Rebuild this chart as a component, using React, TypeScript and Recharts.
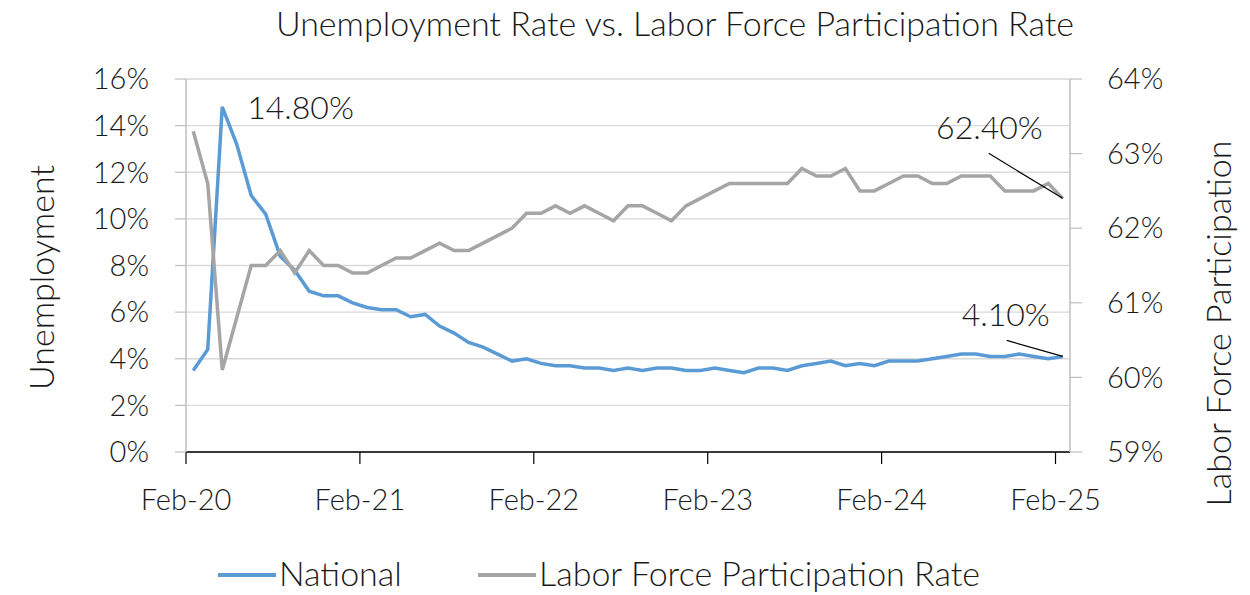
import React from "react";
import {
  LineChart,
  Line,
  XAxis,
  YAxis,
  CartesianGrid,
  Legend,
} from "recharts";

// monthly observations, Feb-20 .. Feb-25
const startYear = 2020;
const monthNames = ["Jan", "Feb", "Mar", "Apr", "May", "Jun", "Jul", "Aug", "Sep", "Oct", "Nov", "Dec"];
const months: string[] = [];
for (let i = 0; i < 61; i++) {
  const m = (1 + i) % 12;
  const y = startYear + Math.floor((1 + i) / 12);
  months.push(`${monthNames[m]}-${String(y).slice(2)}`);
}

const national = [
  3.5, 4.4, 14.8, 13.2, 11.0, 10.2, 8.4, 7.8, 6.9, 6.7, 6.7,
  6.4, 6.2, 6.1, 6.1, 5.8, 5.9, 5.4, 5.1, 4.7, 4.5, 4.2, 3.9,
  4.0, 3.8, 3.7, 3.7, 3.6, 3.6, 3.5, 3.6, 3.5, 3.6, 3.6, 3.5,
  3.5, 3.6, 3.5, 3.4, 3.6, 3.6, 3.5, 3.7, 3.8, 3.9, 3.7, 3.8,
  3.7, 3.9, 3.9, 3.9, 4.0, 4.1, 4.2, 4.2, 4.1, 4.1, 4.2, 4.1,
  4.0, 4.1,
];

const participation = [
  63.3, 62.6, 60.1, 60.8, 61.5, 61.5, 61.7, 61.4, 61.7, 61.5, 61.5,
  61.4, 61.4, 61.5, 61.6, 61.6, 61.7, 61.8, 61.7, 61.7, 61.8, 61.9, 62.0,
  62.2, 62.2, 62.3, 62.2, 62.3, 62.2, 62.1, 62.3, 62.3, 62.2, 62.1, 62.3,
  62.4, 62.5, 62.6, 62.6, 62.6, 62.6, 62.6, 62.8, 62.7, 62.7, 62.8, 62.5,
  62.5, 62.6, 62.7, 62.7, 62.6, 62.6, 62.7, 62.7, 62.7, 62.5, 62.5, 62.5,
  62.6, 62.4,
];

const tickLabels = ["Feb-20", "Feb-21", "Feb-22", "Feb-23", "Feb-24", "Feb-25"];
const leftTicks = [0, 2, 4, 6, 8, 10, 12, 14, 16];
const rightTicks = [59, 60, 61, 62, 63, 64];
const seriesNames = ["National", "Labor Force Participation Rate"];
const colors = ["#5b9bd5", "#a5a5a5"];

const data = months.map((m, i) => ({
  idx: i,
  month: m,
  national: national[i],
  participation: participation[i],
}));

// ticks sit on the boundary before each labelled month
const xTicks = tickLabels.map((l) => months.indexOf(l) - 0.5);

const FONT = "Lato, 'Open Sans', sans-serif";
const TEXT = "#1a1a1a";

const peakIndex = national.indexOf(Math.max(...national));
const lastIndex = national.length - 1;

const NationalLabel = (props: any) => {
  const { x, y, index, value } = props;
  if (index === peakIndex) {
    return (
      <text x={x + 25} y={y + 12} fontSize={32} fontWeight={300} fill={TEXT} fontFamily={FONT}>
        {value.toFixed(2)}%
      </text>
    );
  }
  if (index === lastIndex) {
    return (
      <g>
        <line x1={x - 56} y1={y - 16} x2={x} y2={y} stroke="#000" strokeWidth={1.2} />
        <text x={x - 13} y={y - 30} fontSize={32} fontWeight={300} fill={TEXT} fontFamily={FONT} textAnchor="end">
          {value.toFixed(2)}%
        </text>
      </g>
    );
  }
  return null;
};

const ParticipationLabel = (props: any) => {
  const { x, y, index, value } = props;
  if (index === lastIndex) {
    return (
      <g>
        <line x1={x - 74} y1={y - 45} x2={x} y2={y} stroke="#000" strokeWidth={1.2} />
        <text x={x - 20} y={y - 59} fontSize={32} fontWeight={300} fill={TEXT} fontFamily={FONT} textAnchor="end">
          {value.toFixed(2)}%
        </text>
      </g>
    );
  }
  return null;
};

const LegendContent = () => (
  <svg width={1250} height={48} style={{ display: "block" }}>
    <line x1={218} y1={28} x2={276} y2={28} stroke={colors[0]} strokeWidth={4} />
    <text x={279} y={39} fontSize={34} fontWeight={300} fill={TEXT} fontFamily={FONT}>
      {seriesNames[0]}
    </text>
    <line x1={478} y1={28} x2={536} y2={28} stroke={colors[1]} strokeWidth={4} />
    <text x={539} y={39} fontSize={34} fontWeight={300} fill={TEXT} fontFamily={FONT}>
      {seriesNames[1]}
    </text>
  </svg>
);

const axisTitleStyle = { fontSize: 34, fontWeight: 300, fill: TEXT, fontFamily: FONT };

const LeftTitle = (props: any) => {
  const { x, y, height } = props.viewBox;
  const cx = x + 40;
  const cy = y + height / 2 + 12;
  return (
    <text x={cx} y={cy} transform={`rotate(-90 ${cx} ${cy})`} textAnchor="middle" dominantBaseline="central" {...axisTitleStyle}>
      Unemployment
    </text>
  );
};

const RightTitle = (props: any) => {
  const { x, y, height } = props.viewBox;
  const cx = x + 147;
  const cy = y + height / 2 + 58;
  return (
    <text x={cx} y={cy} transform={`rotate(-90 ${cx} ${cy})`} textAnchor="middle" dominantBaseline="central" {...axisTitleStyle}>
      Labor Force Participation
    </text>
  );
};

const tickStyle = { fontSize: 29, fontWeight: 300, fill: TEXT, fontFamily: FONT };

export default function App() {
  return (
    <div style={{ position: "relative", width: 1250, height: 595 }}>
      <style>{"body{margin:0}"}</style>
      <div
        style={{
          position: "absolute",
          top: 2,
          left: 0,
          width: 1350,
          textAlign: "center",
          fontFamily: FONT,
          fontWeight: 300,
          fontSize: 34,
          color: TEXT,
          whiteSpace: "nowrap",
        }}
      >
        Unemployment Rate vs. Labor Force Participation Rate
      </div>
      <LineChart
        width={1250}
        height={595}
        data={data}
        margin={{ top: 79, right: 0, left: 0, bottom: 0 }}
      >
        <CartesianGrid yAxisId="left" vertical={false} stroke="#d9d9d9" strokeWidth={1.3} />
        <XAxis
          dataKey="idx"
          type="number"
          domain={[-0.5, 60.5]}
          ticks={xTicks}
          tickFormatter={(v: number) => tickLabels[xTicks.indexOf(v)] ?? ""}
          height={95}
          axisLine={{ stroke: "#000", strokeWidth: 1.5 }}
          tickLine={{ stroke: "#000", strokeWidth: 1.2 }}
          tickSize={12}
          tickMargin={25}
          tick={tickStyle}
          interval={0}
        />
        <YAxis
          yAxisId="left"
          domain={[0, 16]}
          ticks={leftTicks}
          tickFormatter={(v: number) => `${v}%`}
          width={186}
          axisLine={{ stroke: "#bfbfbf", strokeWidth: 1.5 }}
          tickLine={{ stroke: "#bfbfbf", strokeWidth: 1.2 }}
          tickSize={11}
          tickMargin={26}
          tick={tickStyle}
          interval={0}
          label={LeftTitle}
        />
        <YAxis
          yAxisId="right"
          orientation="right"
          domain={[59, 64]}
          ticks={rightTicks}
          tickFormatter={(v: number) => `${v}%`}
          width={180}
          axisLine={{ stroke: "#bfbfbf", strokeWidth: 1.5 }}
          tickLine={{ stroke: "#bfbfbf", strokeWidth: 1.2 }}
          tickSize={12}
          tickMargin={25}
          tick={tickStyle}
          interval={0}
          label={RightTitle}
        />
        <Legend verticalAlign="bottom" content={<LegendContent />} height={48} />
        <Line
          yAxisId="left"
          dataKey="national"
          name={seriesNames[0]}
          stroke={colors[0]}
          strokeWidth={3.5}
          dot={false}
          isAnimationActive={false}
          label={<NationalLabel />}
        />
        <Line
          yAxisId="right"
          dataKey="participation"
          name={seriesNames[1]}
          stroke={colors[1]}
          strokeWidth={3.5}
          dot={false}
          isAnimationActive={false}
          label={<ParticipationLabel />}
        />
      </LineChart>
    </div>
  );
}
